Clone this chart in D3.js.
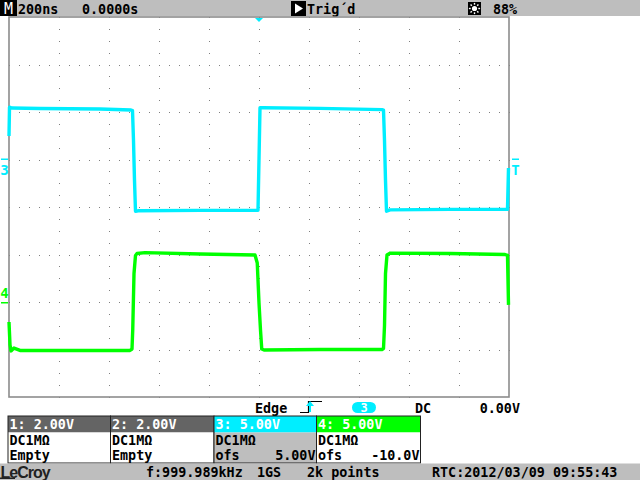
<!DOCTYPE html>
<html><head><meta charset="utf-8">
<script src="https://cdn.jsdelivr.net/npm/d3@7/dist/d3.min.js"></script>
<style>
html,body{margin:0;padding:0;background:#fff;}
svg{display:block;}
text{font-family:"DejaVu Sans Mono",monospace;font-size:13.4px;font-weight:bold;}
</style></head>
<body>
<script>
// ---- data ----
const timebase = "200ns";
const delay = "0.0000s";
const trigState = "Trig\u00b4d";
const brightness = "88%";
const ch3Time = [-1000,-998,-988,-876,-636,-512,-506,-502,-498,-494,-484,-236,-4,0,4,16,244,492,498,502,506,510,524,764,994,998];
const ch3Volts = [2.47,5.5,5.42,5.37,5.32,5.21,5.15,2.0,-2.2,-5.45,-5.4,-5.35,-5.35,0,5.45,5.45,5.38,5.25,5.2,2.0,-2.2,-5.45,-5.3,-5.25,-5.25,-0.9];
const ch4Time = [-1000,-996,-992,-980,-956,-516,-508,-505,-500,-494,-488,-456,-236,-16,-7,0,6,11,20,244,492,498,502,506,512,524,764,984,994,998];
const ch4Volts = [-2.1,-4.5,-5.15,-4.85,-5.1,-5.1,-4.95,-2.9,3.0,4.9,5.1,5.2,5.05,4.95,4.1,-0.1,-2.95,-4.95,-5.05,-5.0,-5.0,-4.9,-2.5,3.0,4.95,5.15,5.1,5.0,4.9,-0.3];
const channelNames = ["1","2","3","4"];
const channelScales = ["2.00V","2.00V","5.00V","5.00V"];
const channelOffsets = [null,null,5,-10];
const channelCoupling = ["DC1M\u03a9","DC1M\u03a9","DC1M\u03a9","DC1M\u03a9"];
const channelThird = ["Empty","Empty","ofs","ofs"];
const channelOfsLabels = ["","","5.00V","-10.0V"];
const trigInfo = {type:"Edge", source:"3", coupling:"DC", level:"0.00V"};
const statusTexts = ["f:999.989kHz","1GS","2k points","RTC:2012/03/09 09:55:43"];

const W=640,H=480;
const CYAN="#00eeff", GREEN="#00ff00", BARGRAY="#bebebe", GRID="#7f7f7f";
const svg=d3.select("body").append("svg").attr("width",W).attr("height",H);
svg.append("rect").attr("width",W).attr("height",H).attr("fill","#fff");

const x=d3.scaleLinear().domain([-1000,1000]).range([9,509]);
const y=d3.scaleLinear().domain([-4,4]).range([397,17]);

// top bar
svg.append("rect").attr("x",0).attr("y",0).attr("width",W).attr("height",16).attr("fill",BARGRAY);
svg.append("rect").attr("x",0).attr("y",0).attr("width",17).attr("height",16).attr("fill","#000");
svg.append("text").attr("x",8.5).attr("y",13.5).attr("text-anchor","middle").attr("fill","#fff").style("font-size","15px").style("font-weight","normal").text("M");
svg.append("text").attr("x",18).attr("y",13.5).text(timebase);
svg.append("text").attr("x",82).attr("y",13.5).text(delay);
svg.append("rect").attr("x",291).attr("y",1).attr("width",15).attr("height",15).attr("fill","#000");
svg.append("path").attr("d","M295,3.5 L303,8.5 L295,13.5 Z").attr("fill","#fff");
svg.append("text").attr("x",307).attr("y",13.5).text(trigState);
svg.append("rect").attr("x",468).attr("y",2).attr("width",13).attr("height",13).attr("fill","#000");
const sun=svg.append("g").attr("transform","translate(474.5,8.5)");
sun.append("circle").attr("r",2.6).attr("fill","#fff");
d3.range(8).forEach(i=>{const a=i*Math.PI/4;sun.append("line").attr("x1",Math.cos(a)*3.8).attr("y1",Math.sin(a)*3.8).attr("x2",Math.cos(a)*5.6).attr("y2",Math.sin(a)*5.6).attr("stroke","#fff").attr("stroke-width",1.4);});
svg.append("text").attr("x",493).attr("y",13.5).text(brightness);

// grid dots
const g=svg.append("g").attr("fill",GRID).attr("shape-rendering","crispEdges");
const vLines=d3.range(-800,1000,200), hLines=d3.range(-3,4,1);
vLines.forEach(t=>{d3.range(-4,4.01,0.25).forEach(d=>{g.append("rect").attr("x",Math.round(x(t))).attr("y",Math.round(y(d))).attr("width",1).attr("height",1);});});
hLines.forEach(d=>{d3.range(-1000,1001,40).forEach(t=>{g.append("rect").attr("x",Math.round(x(t))).attr("y",Math.round(y(d))).attr("width",1).attr("height",1);});});
// border
svg.append("rect").attr("x",x(-1000)).attr("y",y(4)).attr("width",x(1000)-x(-1000)).attr("height",y(-4)-y(4))
  .attr("fill","none").attr("stroke","#8c8c8c").attr("stroke-width",1.6);

// traces
const toDiv3=v=>(v+channelOffsets[2])/5, toDiv4=v=>(v+channelOffsets[3])/5;
const line=d3.line().x(d=>x(d[0])).y(d=>y(d[1]));
svg.append("path").attr("d",line(ch3Time.map((t,i)=>[t,toDiv3(ch3Volts[i])]))).attr("fill","none").attr("stroke",CYAN).attr("stroke-width",3.4).attr("stroke-linejoin","round");
svg.append("path").attr("d",line(ch4Time.map((t,i)=>[t,toDiv4(ch4Volts[i])]))).attr("fill","none").attr("stroke",GREEN).attr("stroke-width",3.4).attr("stroke-linejoin","round");

// channel markers
const y3=y(toDiv3(0)), y4=y(toDiv4(0));
svg.append("rect").attr("x",1).attr("y",y3-1).attr("width",7).attr("height",1.5).attr("fill",CYAN);
svg.append("text").attr("x",4.5).attr("y",y3+15).attr("text-anchor","middle").attr("fill",CYAN).style("font-size","14px").text("3");
svg.append("rect").attr("x",1).attr("y",y4).attr("width",7).attr("height",1.5).attr("fill",GREEN);
svg.append("text").attr("x",4.5).attr("y",y4-4).attr("text-anchor","middle").attr("fill",GREEN).style("font-size","14px").text("4");
// trigger level marker (right)
svg.append("rect").attr("x",512).attr("y",y3-1).attr("width",7).attr("height",1.5).attr("fill",CYAN);
svg.append("text").attr("x",515.5).attr("y",y3+15).attr("text-anchor","middle").attr("fill",CYAN).style("font-size","14px").text("T");
// trigger position marker (top)
svg.append("path").attr("d",`M${x(0)-4},18 L${x(0)+4},18 L${x(0)},22 Z`).attr("fill",CYAN);

// trigger info row
svg.append("text").attr("x",255).attr("y",412.5).text(trigInfo.type);
svg.append("path").attr("d","M300,412.5 H308.5 V401.5 H322").attr("fill","none").attr("stroke","#000").attr("stroke-width",1.2);
svg.append("path").attr("d","M310,401 L306,406 L314,406 Z").attr("fill",CYAN);
svg.append("rect").attr("x",309).attr("y",405).attr("width",2).attr("height",7).attr("fill",CYAN);
svg.append("rect").attr("x",352).attr("y",402).attr("width",24).attr("height",11).attr("rx",5.5).attr("fill",CYAN);
svg.append("text").attr("x",364).attr("y",412).attr("text-anchor","middle").attr("fill","#fff").style("font-size","12px").text(trigInfo.source);
svg.append("text").attr("x",415).attr("y",412.5).text(trigInfo.coupling);
svg.append("text").attr("x",520).attr("y",412.5).attr("text-anchor","end").text(trigInfo.level);

// channel boxes
const boxX=[8,110.5,214,316.5,420.5];
const headFill=["#646464","#646464",CYAN,GREEN];
const bodyFill=["#fff","#fff",BARGRAY,"#fff"];
channelNames.forEach((n,i)=>{
  const x0=boxX[i], w=boxX[i+1]-x0;
  svg.append("rect").attr("x",x0).attr("y",416).attr("width",w).attr("height",16.5).attr("fill",headFill[i]);
  svg.append("rect").attr("x",x0).attr("y",432.5).attr("width",w).attr("height",30.5).attr("fill",bodyFill[i]);
  svg.append("rect").attr("x",x0).attr("y",416).attr("width",w).attr("height",47).attr("fill","none").attr("stroke","#222").attr("stroke-width",1);
  svg.append("text").attr("x",x0+1.5).attr("y",428.5).attr("fill","#fff").text(`${n}: ${channelScales[i]}`);
  svg.append("text").attr("x",x0+1.5).attr("y",444.5).text(channelCoupling[i]);
  svg.append("text").attr("x",x0+1.5).attr("y",460).text(channelThird[i]);
  if(channelOfsLabels[i]) svg.append("text").attr("x",x0+w-1).attr("y",460).attr("text-anchor","end").text(channelOfsLabels[i]);
});

// bottom bar
svg.append("rect").attr("x",0).attr("y",463.5).attr("width",W).attr("height",16.5).attr("fill",BARGRAY);
svg.append("text").attr("x",0.5).attr("y",478).style("font-family","'Liberation Sans Narrow','Liberation Sans',sans-serif").style("font-size","16px").style("letter-spacing","-1px").attr("fill","#222").text("LeCroy");
svg.append("rect").attr("x",0).attr("y",477.5).attr("width",15).attr("height",1.5).attr("fill","#222");
const statX=[146,257,307,432];
statusTexts.forEach((s,i)=>svg.append("text").attr("x",statX[i]).attr("y",477).text(s));
</script>
</body></html>
